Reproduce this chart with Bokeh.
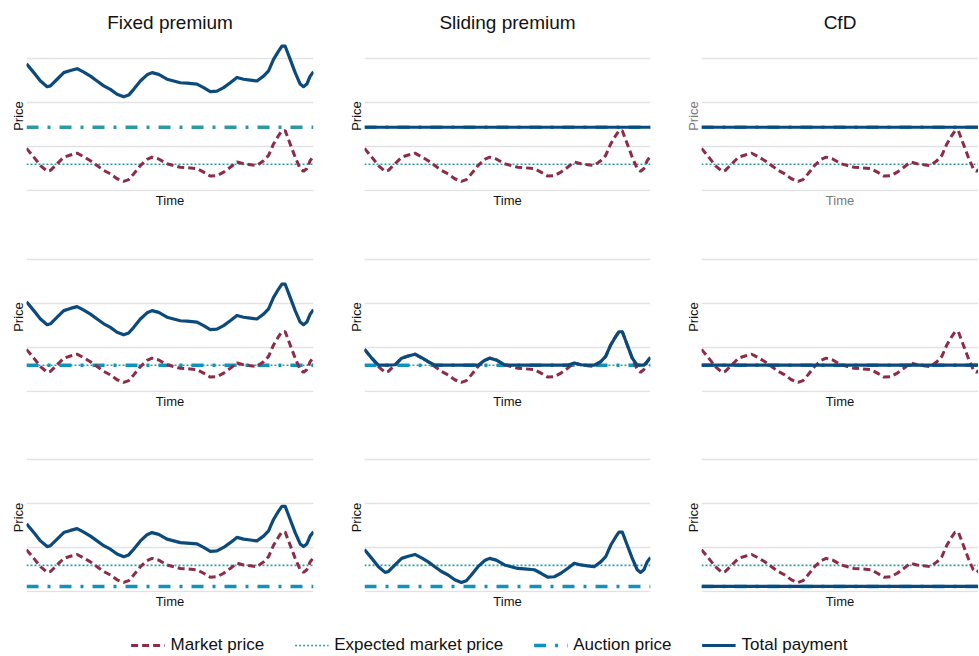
from bokeh.plotting import figure
from bokeh.models import Range1d, FixedTicker, Legend, LegendItem
from bokeh.layouts import gridplot, column
from bokeh.embed import file_html
from bokeh.resources import INLINE

# ---------------- data ----------------
schemes = ["Fixed premium", "Sliding premium", "CfD"]

time = [0.0, 2.55, 4.87, 7.19, 8.35, 10.67, 12.99, 15.31, 17.63, 19.95, 22.27,
        24.59, 26.91, 29.23, 31.55, 33.87, 35.61, 37.35, 39.68, 42.0, 43.74,
        46.06, 48.96, 51.28, 53.6, 55.92, 59.4, 61.72, 64.04, 66.36, 68.68,
        71.0, 73.32, 75.64, 77.96, 80.28, 82.6, 84.34, 86.08, 87.82, 88.98,
        90.14, 91.88, 93.62, 95.36, 96.52, 97.68, 98.84, 100.0]

market_price = [0.95, 0.75, 0.56, 0.43, 0.45, 0.60, 0.75, 0.80, 0.84, 0.76, 0.67,
                0.56, 0.45, 0.37, 0.26, 0.20, 0.24, 0.37, 0.56, 0.70, 0.75,
                0.71, 0.60, 0.56, 0.52, 0.51, 0.49, 0.41, 0.32, 0.33, 0.41,
                0.52, 0.64, 0.60, 0.58, 0.56, 0.67, 0.79, 1.05, 1.24, 1.35,
                1.35, 1.05, 0.75, 0.49, 0.43, 0.49, 0.67, 0.77]

expected_market_price = 0.59
auction_price = [1.43, 0.59, 0.11]        # one per row
fixed_premium = [1.92, 1.08, 0.59]        # one per row

legend_labels = ["Market price", "Expected market price", "Auction price",
                 "Total payment"]

# ---------------- style ----------------
FONT = "Liberation Sans"
C_MARKET = "#8E2C48"
C_EXPECTED = "#2A9DA5"
C_AUCTION = ["#2D9AA1", "#1093BB", "#1093BB"]
C_TOTAL = "#0B4A7B"
C_GRID = "#E2E2E2"

COL_W = [345, 337, 296]
COL_BL = [26, 18, 17]
COL_BR = [32, 32, 0]
X_END = [100.0, 100.0, 97.2]
ROW_H = [221, 201, 189]
ROW_BT = [40, 20, 20]
ROW_BB = [30, 30, 18]


def total_payment(scheme, row):
    a = auction_price[row]
    if scheme == "Fixed premium":
        return [m + fixed_premium[row] for m in market_price]
    if scheme == "Sliding premium":
        return [max(m, a) for m in market_price]
    return [a for _ in market_price]


def panel(row, col):
    scheme = schemes[col]
    p = figure(width=COL_W[col], height=ROW_H[row],
               x_range=Range1d(0, X_END[col]), y_range=Range1d(-0.03, 3.4),
               toolbar_location=None, output_backend="svg",
               min_border_left=COL_BL[col], min_border_right=COL_BR[col],
               min_border_top=ROW_BT[row], min_border_bottom=ROW_BB[row])
    if row == 0:
        p.title.text = scheme
        p.title.align = "center"
        p.title.text_font = FONT
        p.title.text_font_size = "19px"
        p.title.text_font_style = "normal"
        p.title.text_color = "#111111"
        p.title.standoff = 16
    p.outline_line_color = None
    p.background_fill_color = "white"
    p.border_fill_color = "white"
    p.xgrid.visible = False
    p.ygrid.ticker = FixedTicker(ticks=[0, 1, 2, 3])
    p.ygrid.grid_line_color = C_GRID
    p.ygrid.grid_line_width = 1.5
    lab_col = "#7a7a7a" if (row == 0 and col == 2) else "#111111"
    for ax, lab in ((p.xaxis[0], "Time"), (p.yaxis[0], "Price")):
        ax.ticker = FixedTicker(ticks=[])
        ax.axis_label = lab
        ax.axis_label_text_font = FONT
        ax.axis_label_text_font_size = "13px"
        ax.axis_label_text_font_style = "normal"
        ax.axis_label_text_color = lab_col
        ax.axis_label_standoff = 1
        ax.axis_line_color = None
        ax.major_tick_line_color = None
        ax.minor_tick_line_color = None
        ax.major_tick_out = 0
        ax.major_tick_in = 0
        ax.minor_tick_out = 0
        ax.minor_tick_in = 0
        ax.major_label_standoff = 0
        ax.major_label_text_font_size = "0px"

    p.line(time, [expected_market_price] * len(time), line_color=C_EXPECTED,
           line_width=1.6, line_dash="2 2")
    p.line(time, [auction_price[row]] * len(time), line_color=C_AUCTION[row],
           line_width=3.5, line_dash="12 9 3 9")
    if not (scheme == "Sliding premium" and row == 2):
        p.line(time, market_price, line_color=C_MARKET, line_width=3,
               line_dash="7 4")
    p.line(time, total_payment(scheme, row), line_color=C_TOTAL, line_width=3.2,
           line_join="round")
    return p


rows = [[panel(r, c) for c in range(3)] for r in range(3)]
grid = gridplot(rows, toolbar_location=None)

# ---------------- legend ----------------
leg = figure(width=978, height=44, x_range=Range1d(0, 1), y_range=Range1d(0, 1),
             toolbar_location=None, output_backend="svg", min_border=0)
leg.axis.visible = False
leg.grid.visible = False
leg.outline_line_color = None
off = dict(x=[-10, -9], y=[-10, -9])
r1 = leg.line(**off, line_color=C_MARKET, line_width=3, line_dash="7 4")
r2 = leg.line(**off, line_color=C_EXPECTED, line_width=1.6, line_dash="2 2")
r3 = leg.line(**off, line_color=C_AUCTION[1], line_width=3.5, line_dash="12 9 3 9")
r4 = leg.line(**off, line_color=C_TOTAL, line_width=3.2)
legend = Legend(items=[LegendItem(label=lab, renderers=[r])
                       for lab, r in zip(legend_labels, [r1, r2, r3, r4])],
                orientation="horizontal", location="bottom_center",
                glyph_width=34, glyph_height=16, label_standoff=6, spacing=30,
                padding=0, margin=0, border_line_color=None,
                background_fill_alpha=0,
                label_text_font=FONT, label_text_font_size="17px",
                label_text_color="#111111")
leg.add_layout(legend, "center")

layout = column(grid, leg)
open("out.html", "w").write(file_html(layout, INLINE))
